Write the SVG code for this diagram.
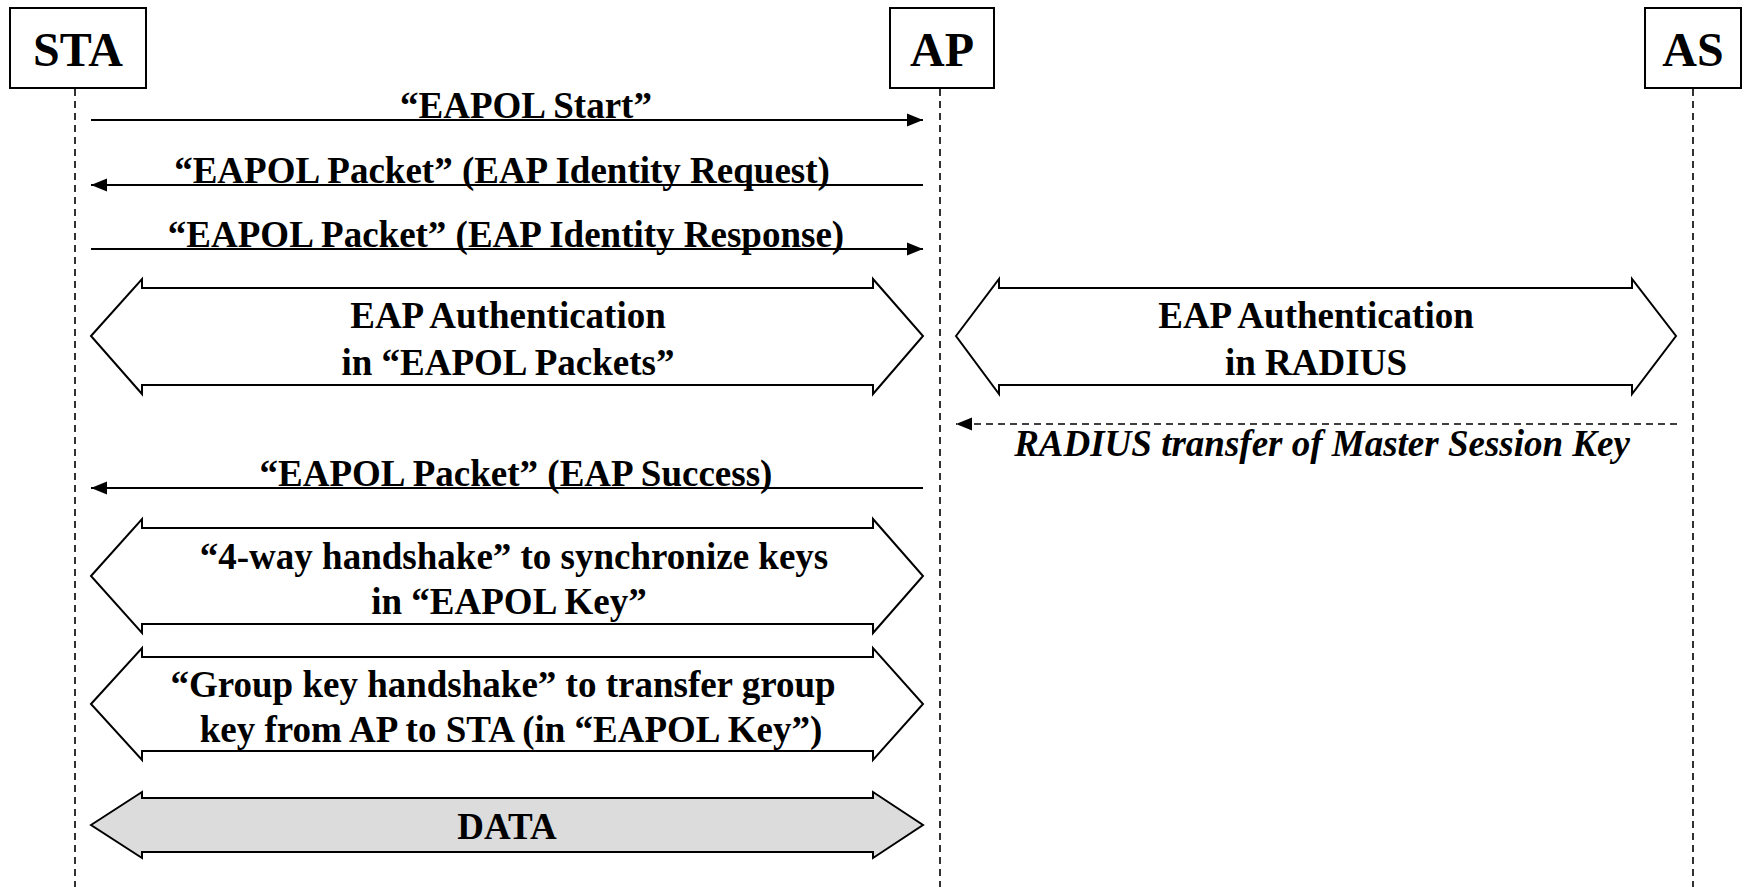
<svg xmlns="http://www.w3.org/2000/svg" width="1745" height="887" viewBox="0 0 1745 887">
  <style>
    .box { fill: #ffffff; stroke: #000000; stroke-width: 2; }
    .life { stroke: #000000; stroke-width: 1.6; stroke-dasharray: 7 5; fill: none; }
    .msg { stroke: #000000; stroke-width: 2; fill: none; }
    .dash { stroke: #000000; stroke-width: 1.6; stroke-dasharray: 7 5; fill: none; }
    .big { fill: #ffffff; stroke: #000000; stroke-width: 2; stroke-linejoin: miter; }
    .data { fill: #dcdcdc; stroke: #000000; stroke-width: 2; }
    .actor { font-family: "Liberation Serif", "Times New Roman", serif; font-weight: bold; font-size: 48px; text-anchor: middle; fill: #000000; }
    .lbl { font-family: "Liberation Serif", "Times New Roman", serif; font-weight: bold; font-size: 37px; text-anchor: middle; fill: #000000; }
    .ital { font-family: "Liberation Serif", "Times New Roman", serif; font-weight: bold; font-style: italic; font-size: 37px; text-anchor: middle; fill: #000000; }
  </style>
  <defs>
    <marker id="head" markerUnits="userSpaceOnUse" markerWidth="18" markerHeight="14" refX="16" refY="7" orient="auto">
      <path d="M0,0.5 L16,7 L0,13.5 z" fill="#000000"/>
    </marker>
  </defs>

  <rect width="1745" height="887" fill="#ffffff"/>

  <!-- participants -->
  <g id="sta">
    <rect class="box" x="10" y="8" width="136" height="80"/>
    <text class="actor" x="78" y="66">STA</text>
  </g>
  <g id="ap">
    <rect class="box" x="890" y="8" width="104" height="80"/>
    <text class="actor" x="942" y="66">AP</text>
  </g>
  <g id="as">
    <rect class="box" x="1645" y="8" width="96" height="80"/>
    <text class="actor" x="1693" y="66">AS</text>
  </g>

  <!-- lifelines and messages -->
  <g id="connectors">
    <line class="life" x1="75" y1="89" x2="75" y2="887"/>
    <line class="life" x1="940" y1="89" x2="940" y2="887"/>
    <line class="life" x1="1693" y1="89" x2="1693" y2="887"/>

    <line class="msg" x1="91" y1="120" x2="923" y2="120" marker-end="url(#head)"/>
    <line class="msg" x1="923" y1="185" x2="91" y2="185" marker-end="url(#head)"/>
    <line class="msg" x1="91" y1="249" x2="923" y2="249" marker-end="url(#head)"/>
    <line class="msg" x1="923" y1="488" x2="91" y2="488" marker-end="url(#head)"/>
    <line class="dash" x1="1677" y1="424" x2="956" y2="424" marker-end="url(#head)"/>
  </g>

  <!-- message labels -->
  <g id="msg-labels">
    <text class="lbl" x="526" y="118">“EAPOL Start”</text>
    <text class="lbl" x="502" y="183">“EAPOL Packet” (EAP Identity Request)</text>
    <text class="lbl" x="506" y="247">“EAPOL Packet” (EAP Identity Response)</text>
    <text class="lbl" x="516" y="486">“EAPOL Packet” (EAP Success)</text>
    <text class="ital" x="1322" y="456">RADIUS transfer of Master Session Key</text>
  </g>

  <!-- two-way exchanges -->
  <g id="eap-eapol">
    <polygon class="big" points="91,336 142,279 142,288 873,288 873,279 923,336 873,394 873,385 142,385 142,394"/>
    <text class="lbl" x="508" y="328">EAP Authentication</text>
    <text class="lbl" x="508" y="375">in “EAPOL Packets”</text>
  </g>
  <g id="eap-radius">
    <polygon class="big" points="956,336 999,279 999,288 1632,288 1632,279 1676,336 1632,394 1632,385 999,385 999,394"/>
    <text class="lbl" x="1316" y="328">EAP Authentication</text>
    <text class="lbl" x="1316" y="375">in RADIUS</text>
  </g>
  <g id="four-way">
    <polygon class="big" points="91,576 142,519 142,528 873,528 873,519 923,576 873,633 873,624 142,624 142,633"/>
    <text class="lbl" x="514" y="569">“4-way handshake” to synchronize keys</text>
    <text class="lbl" x="509" y="614">in “EAPOL Key”</text>
  </g>
  <g id="group-key">
    <polygon class="big" points="91,704 142,648 142,657 873,657 873,648 923,704 873,760 873,751 142,751 142,760"/>
    <text class="lbl" x="503" y="697">“Group key handshake” to transfer group</text>
    <text class="lbl" x="511" y="742">key from AP to STA (in “EAPOL Key”)</text>
  </g>
  <g id="data">
    <polygon class="data" points="91,825 142,792 142,798 873,798 873,792 923,825 873,858 873,852 142,852 142,858"/>
    <text class="lbl" x="507" y="839">DATA</text>
  </g>
</svg>
